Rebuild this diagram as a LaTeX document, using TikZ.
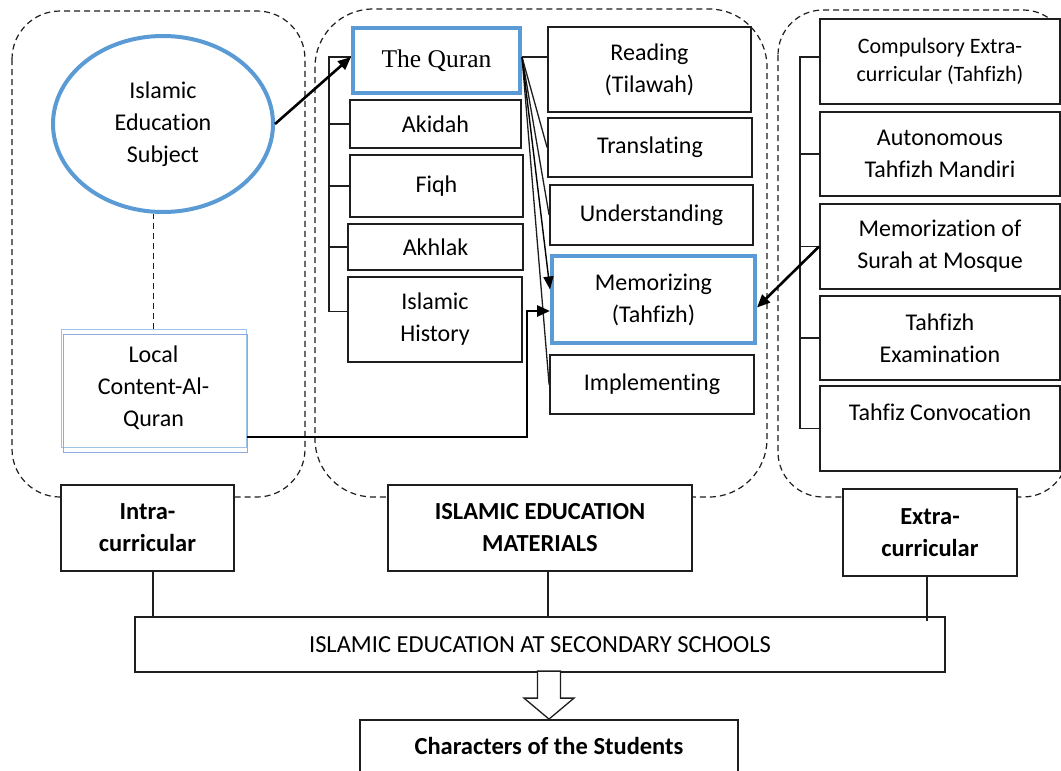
\documentclass[tikz,border=0pt]{standalone}
\usepackage{fontspec}
\setmainfont{Carlito}[Ligatures=NoCommon]
\newfontfamily\tnr{Liberation Serif}
\usetikzlibrary{arrows.meta,shapes.geometric,calc}
\definecolor{qblue}{HTML}{5B9BD5}
\definecolor{lblue}{HTML}{9DC3E6}
\definecolor{gblue}{HTML}{8FAADC}
\definecolor{ink}{HTML}{1E1E1E}
\begin{document}
\begin{tikzpicture}[x=1pt,y=-1pt,
 box/.style={draw=ink, line width=1.8pt, fill=white, align=center, inner sep=0pt, font=\fontsize{24}{32}\selectfont},
 bluebox/.style={box, draw=qblue, line width=4pt},
 container/.style={draw=ink, line width=1.2pt, dash pattern=on 6pt off 4pt},
 conn/.style={draw=ink, line width=1.3pt},
 arr/.style={draw=black, line width=2.6pt, -{Triangle[length=13pt,width=11pt]}},
 thinarr/.style={draw=black, line width=1.4pt, -{Triangle[length=13pt,width=10pt]}},
 boldlbl/.style={font=\bfseries\fontsize{24.5}{32}\selectfont}
]
\clip (0,0) rectangle (1061,771);
\useasboundingbox (0,0) rectangle (1061,771);
\fill[white] (0,0) rectangle (1061,771);

% dashed containers
\draw[container, rounded corners=48pt] (12,11) rectangle (305,497);
\draw[container, rounded corners=58pt] (315,9) rectangle (767,497);
\draw[container, rounded corners=45pt] (778,10) rectangle (1068,497);

% left column
\node[ellipse, draw=qblue, line width=4pt, fill=white, minimum width=220pt, minimum height=176pt, inner sep=0pt, align=center, font=\fontsize{24}{32}\selectfont] (subject) at (163,124) {Islamic\\Education\\Subject};
\node[draw=lblue, line width=1pt, fill=white, minimum width=185pt, minimum height=118pt, inner sep=0pt, align=center, font=\fontsize{24}{32}\selectfont] (local) at (153.5,388) {Local\\Content-Al-\\Quran};
\draw[gblue, line width=1pt] ([xshift=3pt,yshift=-6pt]local.north west) rectangle ([xshift=1pt,yshift=-5pt]local.south east);
\draw[container] (local.north) -- (local.north |- subject.south);

% middle left column
\node[bluebox, minimum width=167pt, minimum height=65pt, font=\tnr\fontsize{25.5}{30}\selectfont] (quran) at (436.5,60.5) {The Quran};
\node[box, minimum width=171pt, minimum height=48pt] (akidah) at (435.5,124) {Akidah};
\node[box, minimum width=173pt, minimum height=62pt] (fiqh) at (436.5,186) {Fiqh};
\node[box, minimum width=175pt, minimum height=46pt] (akhlak) at (435.5,247) {Akhlak};
\node[box, minimum width=174pt, minimum height=85pt] (history) at (435,319.5) {Islamic\\History};

% middle right column
\node[box, minimum width=203pt, minimum height=85pt] (reading) at (649.5,69.5) {Reading\\(Tilawah)};
\node[box, minimum width=204pt, minimum height=59pt] (translating) at (650,147.5) {Translating};
\node[box, minimum width=203pt, minimum height=60pt] (understanding) at (651.5,215) {Understanding};
\node[bluebox, minimum width=203pt, minimum height=87pt] (memorizing) at (653.5,299.5) {Memorizing\\(Tahfizh)};
\node[box, minimum width=204pt, minimum height=59pt] (implementing) at (652,384.5) {Implementing};

% right column
\node[box, minimum width=240pt, minimum height=85pt, font=\fontsize{22}{28}\selectfont] (compulsory) at (940,61.5) {Compulsory Extra-\\curricular (Tahfizh)};
\node[box, minimum width=240pt, minimum height=84pt] (autonomous) at (940,154) {Autonomous\\Tahfizh Mandiri};
\node[box, minimum width=240pt, minimum height=85pt] (memorization) at (940,246.5) {Memorization of\\Surah at Mosque};
\node[box, minimum width=240pt, minimum height=84pt] (examination) at (940,338) {Tahfizh\\Examination};
\node[box, minimum width=240pt, minimum height=85pt] (convocation) at (940,428.5) {Tahfiz Convocation\\\mbox{}};

% bottom boxes
\node[box, boldlbl, minimum width=173pt, minimum height=86pt] (intra) at (147.5,528) {Intra-\\curricular};
\node[box, boldlbl, minimum width=304pt, minimum height=86pt] (materials) at (540,528) {ISLAMIC EDUCATION\\MATERIALS};
\node[box, boldlbl, minimum width=174pt, minimum height=87pt] (extra) at (930,532.5) {Extra-\\curricular};
\node[box, minimum width=810pt, minimum height=55pt, font=\fontsize{24.5}{28}\selectfont] (schools) at (540,644.5) {ISLAMIC EDUCATION AT SECONDARY SCHOOLS};
\node[box, boldlbl, minimum width=378pt, minimum height=62pt, text depth=10pt] (characters) at (549,751) {Characters of the Students};

% brackets
\coordinate (mbar) at (329,57);
\coordinate (hw) at ([yshift=8pt]history.west);
\draw[conn] (quran.west |- mbar) -- (mbar) -- (mbar |- hw) -- (hw);
\foreach \n in {akidah,fiqh,akhlak} \draw[conn] (\n.west) -- (\n.west -| mbar);

\coordinate (rbar) at (800,57);
\draw[conn] (compulsory.west |- rbar) -- (rbar) -- (rbar |- convocation.west) -- (convocation.west);
\foreach \n in {autonomous,memorization,examination} \draw[conn] (\n.west) -- (\n.west -| rbar);

% quran fan
\coordinate (qr) at ([yshift=3.5pt]quran.east);
\draw[conn] (qr) -- (qr -| reading.west);
\draw[conn] (qr) -- (translating.west);
\draw[conn] (qr) -- (understanding.west);
\draw[conn] (qr) -- (implementing.west);
\draw[thinarr] (qr) -- ([yshift=10pt]memorizing.west);

% arrows
\draw[arr] (subject.east) -- (quran.west |- qr);
\coordinate (bendx) at (527,0);
\draw[arr] ([yshift=-49pt]local.east) -- ([yshift=-49pt]local.east -| bendx) |- ([yshift=-11.5pt]memorizing.west);
\draw[arr] (memorization.west) -- ([yshift=-8pt]memorizing.east);

% bottom connectors
\draw[conn] ([xshift=5.5pt]intra.south) -- ([xshift=5.5pt]intra.south |- schools.north);
\draw[conn] ([xshift=8pt]materials.south) -- ([xshift=8pt]materials.south |- schools.north);
\draw[conn] ([xshift=-3pt]extra.south) -- ([xshift=-3pt,yshift=-5pt]extra.south |- schools.north);

% hollow arrow
\coordinate (tip) at (characters.north);
\draw[conn, fill=white, line join=miter] (tip) -- ++(-25,-21) -- ++(13.5,0) -- ++(0,-27) -- ++(23,0) -- ++(0,27) -- ++(13.5,0) -- cycle;
\end{tikzpicture}
\end{document}
